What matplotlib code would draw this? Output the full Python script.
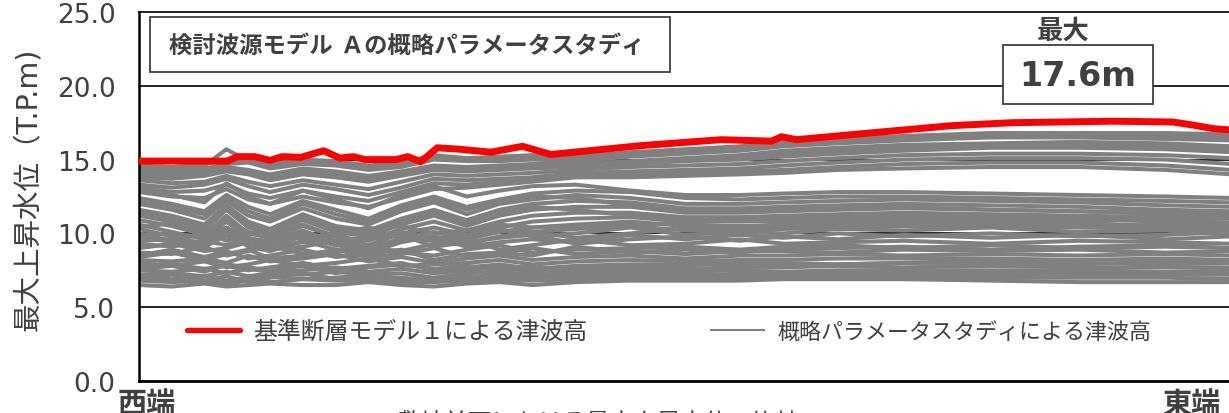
import matplotlib
matplotlib.use("Agg")
import matplotlib.pyplot as plt
from matplotlib.lines import Line2D
from matplotlib.patches import Rectangle

plt.rcParams['font.family'] = ['DejaVu Sans', 'Noto Sans CJK JP']

# position along the coast (0 = 西端, 100 = 東端)
x_red = [0, 8.1, 9.0, 10.6, 12.0, 13.1, 14.8, 16.9, 18.4, 19.6, 20.7, 23.5, 24.6,
         25.8, 27.3, 29.4, 32.2, 35.1, 37.7, 46.0, 53.3, 57.9, 58.8, 60.2, 66.1,
         74.4, 79.9, 89.1, 94.6, 96.4, 98.3, 100]
red = [14.9, 14.9, 15.2, 15.2, 14.95, 15.2, 15.15, 15.6, 15.1, 15.2, 15.0, 15.0, 15.2,
       14.85, 15.8, 15.7, 15.5, 15.9, 15.35, 15.95, 16.35, 16.25, 16.55, 16.35, 16.75,
       17.3, 17.5, 17.6, 17.55, 17.35, 17.1, 17.0]

x_gray = [0, 3, 6, 8, 10, 12, 15, 18, 21, 24, 27, 30, 33, 36, 40, 45, 50, 55, 59, 64, 70, 78, 86, 94, 100]

# upper family of the parameter study
gray_upper = [
    [14.5, 14.4, 14.6, 15.7, 14.9, 14.7, 15.0, 14.9, 14.6, 14.8, 15.3, 15.1, 15.2, 15.3, 15.2, 15.5, 15.7, 15.9, 16.3, 16.4, 16.6, 16.8, 16.8, 16.8, 16.7],
    [14.6, 14.5, 14.7, 15.0, 14.9, 14.5, 14.8, 14.7, 14.4, 14.6, 15.1, 15.0, 15.0, 15.1, 15.0, 15.3, 15.6, 15.8, 16.1, 16.2, 16.5, 16.7, 16.7, 16.6, 16.5],
    [14.3, 14.3, 14.4, 14.7, 14.8, 14.4, 14.7, 14.6, 14.3, 14.5, 15.0, 14.9, 14.9, 15.0, 14.9, 15.2, 15.4, 15.6, 15.9, 16.1, 16.3, 16.5, 16.5, 16.4, 16.3],
    [14.1, 14.1, 14.2, 14.5, 14.3, 14.0, 14.4, 14.2, 13.9, 14.2, 14.6, 14.5, 14.6, 14.7, 14.7, 14.9, 15.1, 15.3, 15.6, 15.8, 16.0, 16.1, 16.2, 16.1, 15.9],
    [13.9, 13.9, 14.0, 14.4, 14.1, 13.8, 14.2, 14.0, 13.7, 14.0, 14.4, 14.3, 14.4, 14.5, 14.6, 14.8, 15.0, 15.2, 15.4, 15.6, 15.8, 16.0, 16.0, 15.9, 15.7],
    [13.8, 13.7, 13.9, 14.2, 14.0, 13.6, 14.0, 13.8, 13.5, 13.9, 14.3, 14.2, 14.3, 14.4, 14.5, 14.7, 14.9, 15.0, 15.2, 15.4, 15.6, 15.8, 15.8, 15.7, 15.5],
    [13.6, 13.4, 13.5, 13.9, 13.5, 13.2, 13.6, 13.3, 13.0, 13.5, 14.0, 13.9, 14.0, 14.1, 14.3, 14.5, 14.6, 14.7, 14.9, 15.1, 15.3, 15.4, 15.4, 15.3, 15.1],
    [13.3, 13.1, 13.3, 13.7, 13.2, 12.8, 13.3, 13.0, 12.6, 13.1, 13.7, 13.6, 13.7, 13.8, 14.1, 14.2, 14.3, 14.4, 14.6, 14.8, 15.0, 15.1, 15.1, 15.0, 14.7],
    [13.1, 12.8, 12.9, 13.3, 12.7, 12.4, 12.9, 12.5, 12.2, 12.8, 13.4, 13.3, 13.5, 13.6, 13.9, 14.0, 14.1, 14.2, 14.3, 14.5, 14.7, 14.8, 14.8, 14.6, 14.3],
    [12.8, 12.5, 12.4, 13.0, 12.3, 12.0, 12.5, 12.1, 11.8, 12.4, 13.0, 13.1, 13.3, 13.5, 13.8, 13.8, 13.9, 14.0, 14.1, 14.3, 14.4, 14.5, 14.5, 14.3, 14.0],
]

# middle family (jagged in the west, joins the lower band in the east)
gray_middle = [
    [13.0, 12.6, 12.1, 13.4, 12.5, 12.0, 12.9, 12.3, 11.7, 12.6, 13.2, 12.5, 12.9, 13.2, 13.3, 12.9, 12.6, 12.6, 12.7, 12.8, 12.8, 12.7, 12.6, 12.5, 12.4],
    [12.4, 12.0, 11.5, 12.6, 11.8, 11.3, 12.2, 11.6, 11.0, 11.9, 12.5, 11.8, 12.3, 12.7, 12.9, 12.8, 12.4, 12.3, 12.4, 12.5, 12.5, 12.4, 12.3, 12.2, 12.1],
    [12.2, 11.8, 11.3, 12.4, 11.5, 11.0, 12.0, 11.3, 10.8, 11.7, 12.3, 11.6, 12.2, 12.5, 12.4, 11.9, 11.6, 11.5, 11.6, 11.7, 11.8, 11.6, 11.5, 11.3, 11.3],
    [12.0, 11.6, 11.0, 12.2, 11.2, 10.8, 11.7, 11.0, 10.6, 11.5, 12.1, 11.3, 12.0, 12.3, 12.6, 12.4, 12.0, 12.0, 12.1, 12.2, 12.3, 12.2, 12.1, 11.9, 11.8],
    [11.6, 11.2, 10.6, 11.9, 10.8, 10.3, 11.3, 10.5, 10.2, 11.0, 11.6, 10.9, 11.6, 12.0, 12.2, 12.1, 11.7, 11.7, 11.8, 11.9, 12.0, 11.9, 11.8, 11.6, 11.5],
    [11.4, 11.0, 10.4, 11.7, 10.6, 10.1, 11.1, 10.3, 10.0, 10.8, 11.4, 10.7, 11.4, 11.8, 11.6, 11.2, 10.9, 11.0, 11.0, 11.1, 11.2, 11.1, 11.0, 10.8, 10.6],
    [11.2, 10.8, 10.2, 11.6, 10.4, 10.0, 10.9, 10.1, 9.8, 10.6, 11.2, 10.5, 11.2, 11.6, 11.8, 11.8, 11.4, 11.4, 11.5, 11.6, 11.7, 11.6, 11.5, 11.4, 11.2],
    [10.9, 10.5, 9.9, 11.2, 10.0, 9.7, 10.5, 9.8, 9.5, 10.3, 10.8, 10.2, 10.8, 11.2, 11.4, 11.4, 11.1, 11.1, 11.2, 11.3, 11.4, 11.3, 11.2, 11.1, 11.0],
    [10.6, 10.1, 9.6, 10.8, 9.7, 9.4, 10.1, 9.5, 9.2, 10.0, 10.4, 9.9, 10.4, 10.8, 11.0, 11.1, 10.8, 10.8, 10.9, 11.0, 11.1, 11.0, 11.0, 10.8, 10.7],
    [10.4, 10.7, 10.0, 10.9, 10.1, 9.9, 10.6, 9.8, 10.3, 10.5, 10.0, 10.2, 10.6, 10.4, 10.5, 10.6, 10.7, 10.9, 10.8, 10.9, 10.9, 10.8, 10.9, 10.9, 11.0],
    [10.3, 9.8, 9.3, 10.4, 9.4, 9.1, 9.8, 9.2, 8.9, 9.7, 10.1, 9.6, 10.1, 10.4, 10.6, 10.8, 10.5, 10.5, 10.6, 10.7, 10.8, 10.7, 10.7, 10.5, 10.4],
    [10.0, 9.5, 9.0, 10.1, 9.1, 8.8, 9.5, 8.9, 8.7, 9.4, 9.8, 9.3, 9.8, 10.1, 10.3, 10.5, 10.2, 10.2, 10.3, 10.4, 10.5, 10.5, 10.4, 10.3, 10.2],
    [9.9, 10.0, 9.7, 10.4, 9.6, 9.5, 10.2, 9.4, 9.8, 10.1, 9.7, 9.8, 10.2, 10.1, 9.7, 10.0, 10.4, 10.3, 10.5, 10.6, 10.6, 10.6, 10.5, 10.6, 10.5],
]

# lower band
gray_lower = [
    [9.8, 9.4, 10.1, 9.5, 9.9, 10.3, 9.6, 10.0, 10.4, 9.7, 9.5, 10.2, 10.3, 9.8, 10.0, 10.4, 9.9, 10.1, 10.0, 10.3, 10.2, 10.4, 10.1, 10.2, 9.9],
    [9.5, 9.6, 9.2, 9.8, 9.3, 9.4, 9.9, 9.2, 9.6, 9.9, 9.1, 9.4, 9.7, 9.9, 9.3, 9.6, 9.8, 9.5, 9.8, 9.6, 9.9, 9.7, 9.9, 9.6, 9.8],
    [9.3, 9.1, 9.5, 9.2, 9.7, 9.1, 9.4, 9.8, 9.2, 9.5, 9.7, 9.1, 9.4, 9.6, 9.4, 9.9, 9.6, 9.9, 9.7, 10.0, 9.8, 10.0, 9.8, 9.9, 10.1],
    [9.0, 9.3, 8.8, 9.0, 9.4, 8.9, 9.1, 9.5, 9.0, 8.8, 9.3, 9.6, 8.9, 9.2, 9.6, 9.2, 9.3, 9.6, 9.3, 9.4, 9.5, 9.3, 9.5, 9.4, 9.3],
    [8.7, 8.6, 9.1, 8.5, 8.8, 9.2, 8.6, 8.8, 9.1, 8.7, 8.5, 8.9, 9.2, 8.7, 8.9, 9.0, 9.1, 8.9, 9.1, 9.2, 9.0, 9.2, 9.0, 9.1, 9.0],
    [8.5, 8.9, 8.4, 8.8, 8.3, 8.5, 8.9, 8.4, 8.6, 8.9, 8.2, 8.6, 8.7, 9.0, 8.6, 8.8, 8.6, 8.8, 8.8, 8.7, 8.9, 8.8, 8.9, 8.7, 8.8],
    [8.4, 8.7, 8.2, 8.6, 8.9, 8.3, 8.5, 8.9, 8.4, 8.6, 9.0, 8.4, 8.7, 8.5, 9.1, 8.7, 8.9, 8.7, 9.0, 9.0, 9.1, 8.9, 9.1, 9.2, 9.0],
    [8.2, 8.1, 8.3, 8.0, 8.5, 8.1, 8.3, 8.6, 8.1, 8.4, 8.0, 8.3, 8.5, 8.2, 8.4, 8.5, 8.3, 8.5, 8.5, 8.6, 8.5, 8.6, 8.5, 8.6, 8.5],
    [8.0, 7.8, 8.1, 7.7, 7.9, 8.2, 7.8, 8.0, 8.3, 7.8, 7.9, 8.0, 8.2, 7.9, 8.1, 8.2, 8.1, 8.2, 8.2, 8.3, 8.3, 8.3, 8.2, 8.3, 8.2],
    [7.7, 7.9, 7.6, 7.8, 7.5, 7.7, 8.0, 7.6, 7.8, 8.0, 7.5, 7.7, 7.9, 7.6, 7.8, 7.9, 7.9, 7.9, 8.0, 7.9, 8.0, 8.0, 8.0, 7.9, 8.0],
    [7.6, 7.8, 7.4, 7.9, 7.7, 7.5, 7.8, 7.3, 7.7, 7.9, 7.6, 7.8, 7.5, 7.8, 7.4, 7.6, 7.8, 8.1, 7.8, 7.9, 8.0, 8.2, 7.9, 8.1, 8.0],
    [7.5, 7.4, 7.6, 7.3, 7.6, 7.4, 7.5, 7.7, 7.4, 7.6, 7.3, 7.5, 7.7, 7.4, 7.6, 7.7, 7.6, 7.7, 7.7, 7.8, 7.7, 7.8, 7.7, 7.7, 7.7],
    [7.2, 7.3, 7.1, 7.4, 7.1, 7.3, 7.2, 7.4, 7.2, 7.3, 7.0, 7.3, 7.4, 7.2, 7.3, 7.4, 7.4, 7.5, 7.4, 7.5, 7.5, 7.5, 7.5, 7.4, 7.5],
    [7.0, 6.9, 7.1, 6.8, 7.0, 7.1, 6.9, 7.0, 7.2, 6.9, 6.9, 7.0, 7.2, 7.0, 7.1, 7.2, 7.2, 7.2, 7.2, 7.3, 7.3, 7.2, 7.3, 7.2, 7.2],
    [6.9, 7.2, 6.8, 7.1, 6.7, 7.0, 7.3, 6.9, 7.1, 7.0, 6.8, 7.1, 7.0, 7.2, 7.0, 7.3, 7.0, 7.3, 7.3, 7.1, 7.4, 7.4, 7.2, 7.3, 7.4],
    [6.8, 6.7, 6.8, 6.6, 6.8, 6.7, 6.9, 6.8, 6.9, 6.7, 6.7, 6.8, 6.9, 6.8, 6.9, 7.0, 6.9, 7.0, 7.0, 7.0, 7.1, 7.0, 7.0, 7.0, 6.9],
    [6.5, 6.4, 6.6, 6.4, 6.5, 6.6, 6.5, 6.5, 6.7, 6.5, 6.4, 6.6, 6.7, 6.5, 6.7, 6.8, 6.8, 6.8, 6.9, 6.9, 6.9, 6.8, 6.7, 6.7, 6.7],
]

y_ticks = [0, 5, 10, 15, 20, 25]
legend_labels = ['基準断層モデル１による津波高', '概略パラメータスタディによる津波高']

W, H = 1229, 414
TXT = '#404040'

fig = plt.figure(figsize=(W / 100, H / 100), dpi=100)
ax = fig.add_axes([139 / W, (H - 382) / H, (W - 139) / W + 0.002, (382 - 13) / H])

for y in y_ticks[1:-1]:
    ax.axhline(y, color='black', lw=1.2, zorder=1)

for line in gray_lower + gray_middle + gray_upper:
    ax.plot(x_gray, line, color='#808080', lw=2.9, zorder=2, solid_joinstyle='round')
ax.plot(x_red, red, color='#ff0000', lw=5.0, zorder=3, solid_capstyle='round')

ax.set_xlim(0, 100)
ax.set_ylim(0, 25)
ax.set_xticks([])
ax.set_yticks(y_ticks)
ax.set_yticklabels([f'{v:.1f}' for v in y_ticks], fontsize=19, color=TXT)
ax.tick_params(axis='y', length=0, pad=17)
ax.spines['right'].set_visible(False)
ax.spines['left'].set_linewidth(1.8)
ax.spines['bottom'].set_linewidth(2.0)
ax.spines['top'].set_linewidth(1.2)

handles = [Line2D([], [], color='#ff0000', lw=3.8, solid_capstyle='round'),
           Line2D([], [], color='#808080', lw=1.5)]
leg = ax.legend(handles, legend_labels, loc='center left', bbox_to_anchor=(48 / 1090, 50 / 369),
                ncol=2, frameon=False, fontsize=17.2, handlelength=2.2, handletextpad=0.55,
                columnspacing=5.2, borderpad=0, borderaxespad=0, labelcolor=TXT)
leg.get_texts()[1].set_fontsize(15.8)

# title box
fig.add_artist(Rectangle((150 / W, 1 - 73 / H), 520 / W, 55 / H, transform=fig.transFigure,
                         facecolor='white', edgecolor=TXT, lw=1.3))
fig.text(407 / W, 1 - 46 / H, '検討波源モデル Ａの概略パラメータスタディ', ha='center', va='center',
         fontsize=16.8, fontweight='bold', color=TXT)

# maximum annotation
fig.text(1063 / W, 1 - 32 / H, '最大', ha='center', va='center', fontsize=19,
         fontweight='bold', color=TXT)
fig.add_artist(Rectangle((1003 / W, 1 - 105 / H), 150 / W, 59 / H, transform=fig.transFigure,
                         facecolor='white', edgecolor=TXT, lw=1.3))
fig.text(1078 / W, 1 - 76 / H, '17.6m', ha='center', va='center', fontsize=24,
         fontweight='bold', color=TXT)

fig.text(28 / W, 1 - 189 / H, '最大上昇水位（T.P.m)', rotation=90, ha='center', va='center',
         fontsize=20.5, color=TXT)

fig.text(147 / W, 1 / H, '西端', ha='center', va='baseline', fontsize=21, fontweight='bold', color=TXT)
fig.text(1191 / W, 1 / H, '東端', ha='center', va='baseline', fontsize=21, fontweight='bold', color=TXT)
fig.text(397 / W, -16 / H, '敷地前面における最大上昇水位の比較', ha='left', va='baseline',
         fontsize=17, color=TXT)

fig.savefig('out.png', dpi=100)
